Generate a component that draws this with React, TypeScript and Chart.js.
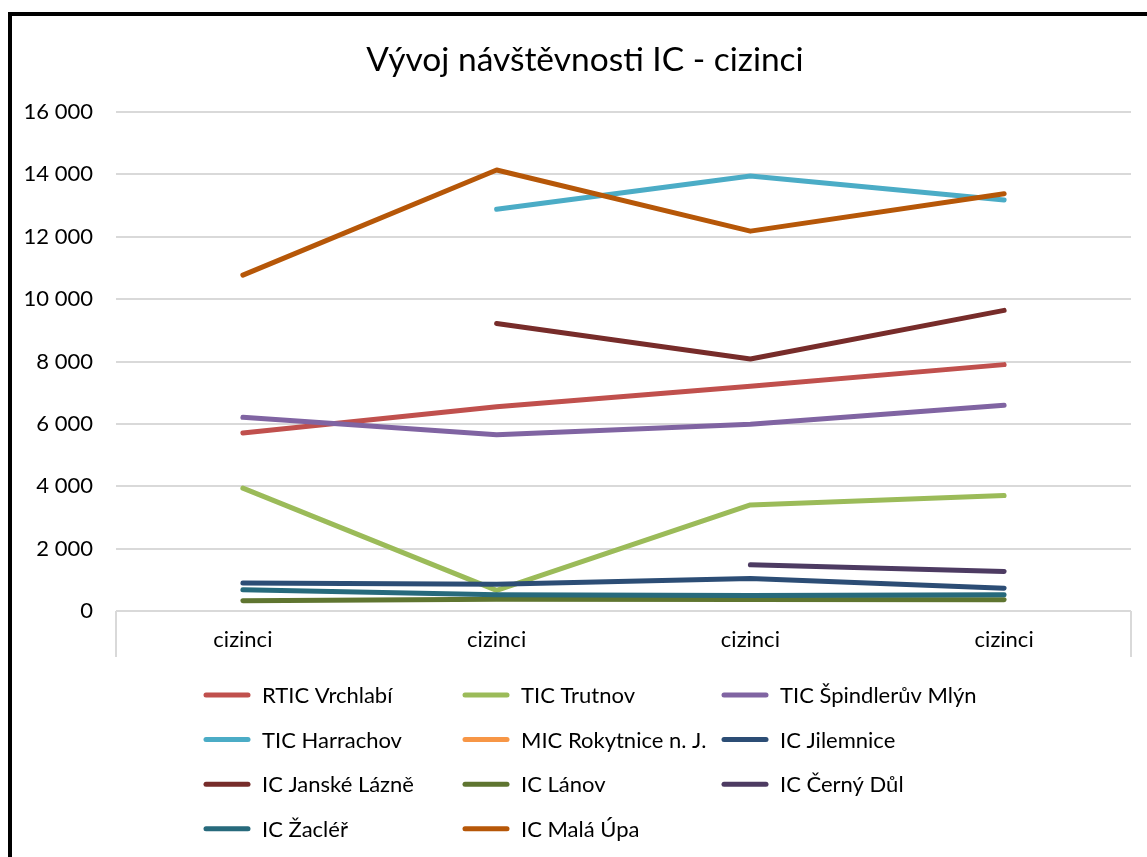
import React, { useEffect, useRef } from "react";
import { Chart, registerables } from "chart.js";

Chart.register(...registerables);

const categories = ["cizinci", "cizinci", "cizinci", "cizinci"];

const seriesNames = [
  "RTIC Vrchlabí",
  "TIC Trutnov",
  "TIC Špindlerův Mlýn",
  "TIC Harrachov",
  "MIC Rokytnice n. J.",
  "IC Jilemnice",
  "IC Janské Lázně",
  "IC Lánov",
  "IC Černý Důl",
  "IC Žacléř",
  "IC Malá Úpa",
];

const vrchlabi = [5710, 6550, 7210, 7900];
const trutnov = [3940, 660, 3400, 3700];
const spindleruvMlyn = [6210, 5650, 5990, 6600];
const harrachov = [null, 12880, 13950, 13180];
const rokytnice = [null, null, null, null];
const jilemnice = [900, 860, 1040, 730];
const janskeLazne = [null, 9220, 8080, 9640];
const lanov = [330, 380, 370, 360];
const cernyDul = [null, null, 1480, 1270];
const zacler = [680, 520, 500, 520];
const malaUpa = [10770, 14140, 12180, 13380];

const seriesValues = [
  vrchlabi,
  trutnov,
  spindleruvMlyn,
  harrachov,
  rokytnice,
  jilemnice,
  janskeLazne,
  lanov,
  cernyDul,
  zacler,
  malaUpa,
];

const seriesColors = [
  "#C0504D",
  "#9BBB59",
  "#8064A2",
  "#4BACC6",
  "#F79646",
  "#2C4D75",
  "#772C2A",
  "#5F7530",
  "#4D3B62",
  "#276A7C",
  "#B65708",
];

const yTicks = [0, 2000, 4000, 6000, 8000, 10000, 12000, 14000, 16000];

const titleText = "Vývoj návštěvnosti IC - cizinci";

const FONT = "Lato, 'Open Sans', sans-serif";

function fmt(v: number) {
  return String(v).replace(/\B(?=(\d{3})+(?!\d))/g, " ");
}

const edgeLines = {
  id: "edgeLines",
  afterDraw(chart: any) {
    const { ctx, chartArea } = chart;
    ctx.save();
    ctx.strokeStyle = "#D9D9D9";
    ctx.lineWidth = 2;
    ctx.beginPath();
    ctx.moveTo(chartArea.left, chartArea.bottom);
    ctx.lineTo(chartArea.left, chartArea.bottom + 46);
    ctx.moveTo(chartArea.right, chartArea.bottom);
    ctx.lineTo(chartArea.right, chartArea.bottom + 46);
    ctx.stroke();
    ctx.restore();
  },
};

const titleDraw = {
  id: "titleDraw",
  afterDraw(chart: any) {
    const { ctx } = chart;
    ctx.save();
    ctx.font = `33.5px ${FONT}`;
    ctx.fillStyle = "#000";
    ctx.textAlign = "center";
    ctx.textBaseline = "middle";
    ctx.fillText(titleText, 585, 60);
    ctx.restore();
  },
};

const gridLegend = {
  id: "gridLegend",
  afterDraw(chart: any) {
    const { ctx } = chart;
    ctx.save();
    ctx.font = `22px ${FONT}`;
    ctx.textBaseline = "middle";
    ctx.textAlign = "left";
    chart.data.datasets.forEach((d: any, i: number) => {
      const col = i % 3;
      const row = Math.floor(i / 3);
      const x = 206 + col * 259;
      const y = 695 + row * 44.6;
      ctx.strokeStyle = d.borderColor;
      ctx.lineWidth = 5;
      ctx.lineCap = "round";
      ctx.beginPath();
      ctx.moveTo(x, y);
      ctx.lineTo(x + 42, y);
      ctx.stroke();
      ctx.fillStyle = "#000";
      ctx.fillText(d.label, x + 56, y + 1);
    });
    ctx.restore();
  },
};

export default function App() {
  const ref = useRef<HTMLCanvasElement | null>(null);

  useEffect(() => {
    if (!ref.current) return;
    const n = seriesNames.length;
    const chart = new Chart(ref.current, {
      type: "line",
      data: {
        labels: categories,
        datasets: seriesNames.map((name, i) => ({
          label: name,
          data: seriesValues[i],
          borderColor: seriesColors[i],
          backgroundColor: seriesColors[i],
          borderWidth: 5,
          borderCapStyle: "round",
          borderJoinStyle: "round",
          pointRadius: 0,
          pointHoverRadius: 0,
          tension: 0,
          fill: false,
          order: n - i,
        })),
      },
      options: {
        responsive: false,
        animation: false,
        layout: { padding: { top: 112, right: 16, bottom: 200, left: 0 } },
        plugins: {
          legend: { display: false },
          tooltip: { enabled: false },
          title: { display: false },
        },
        scales: {
          x: {
            offset: true,
            grid: { display: false, drawTicks: false },
            border: { display: false },
            ticks: {
              color: "#000",
              font: { family: FONT, size: 22 },
              padding: 16,
              maxRotation: 0,
            },
            afterFit(scale: any) {
              scale.height = 46;
            },
          },
          y: {
            min: 0,
            max: 16000,
            afterBuildTicks(scale: any) {
              scale.ticks = yTicks.map((v) => ({ value: v }));
            },
            grid: { color: "#D9D9D9", lineWidth: 2, drawTicks: false },
            border: { display: false },
            ticks: {
              color: "#000",
              font: { family: FONT, size: 22 },
              padding: 23,
              callback: (v: any) => fmt(Number(v)),
            },
            afterFit(scale: any) {
              scale.width = 116;
            },
          },
        },
      },
      plugins: [edgeLines, titleDraw, gridLegend],
    });
    return () => chart.destroy();
  }, []);

  return (
    <div
      style={{
        position: "absolute",
        left: 0,
        top: 0,
        width: 1147,
        height: 857,
        overflow: "hidden",
        background: "#fff",
      }}
    >
      <div
        style={{
          position: "absolute",
          left: 8,
          top: 12,
          width: 1200,
          height: 900,
          border: "4px solid #000",
        }}
      />
      <canvas
        ref={ref}
        width={1147}
        height={857}
        style={{ position: "absolute", left: 0, top: 0 }}
      />
    </div>
  );
}
